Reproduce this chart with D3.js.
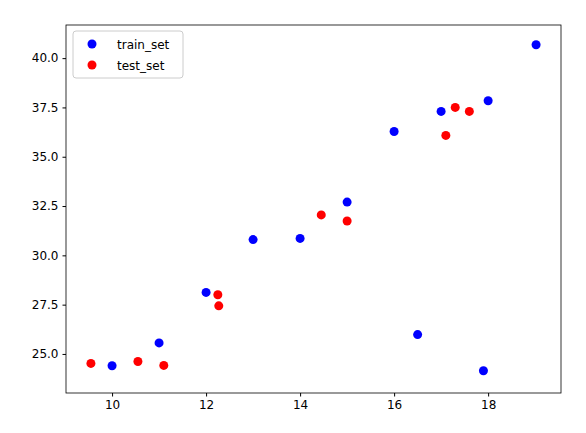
<!DOCTYPE html>
<html><head><meta charset="utf-8">
<script src="https://d3js.org/d3.v7.min.js"></script>
<style>body{margin:0;background:#fff}text{font-family:"DejaVu Sans",sans-serif}</style>
</head><body><svg id="c" width="586" height="433"></svg>
<script>
const trainX = [10, 11, 12, 13, 14, 15, 16, 17, 18, 19.02, 16.5, 17.9]
const trainY = [24.4, 25.56, 28.12, 30.8, 30.86, 32.7, 36.28, 37.3, 37.84, 40.68, 25.98, 24.15]
const testX = [9.55, 10.55, 11.1, 12.25, 12.27, 14.45, 15, 17.1, 17.3, 17.6]
const testY = [24.52, 24.62, 24.42, 28.0, 27.44, 32.05, 31.74, 36.08, 37.5, 37.3]
const xTicks = [10, 12, 14, 16, 18]
const yTicks = [25, 27.5, 30, 32.5, 35, 37.5, 40]

const svg = d3.select("#c")
const L = 66, R = 561, T = 25, B = 393
const x = d3.scaleLinear().domain([9.02, 19.55]).range([L, R])
const y = d3.scaleLinear().domain([23.02, 41.68]).range([B, T])

svg.append("g").attr("transform", `translate(0,${B})`)
    .call(d3.axisBottom(x).tickValues(xTicks).tickFormat(d3.format("d")).tickSizeOuter(0).tickSize(3.5).tickPadding(4))
svg.append("g").attr("transform", `translate(${L},0)`)
    .call(d3.axisLeft(y).tickValues(yTicks).tickFormat(d3.format(".1f")).tickSizeOuter(0).tickSize(3.5).tickPadding(4))
svg.selectAll(".domain").remove()
svg.selectAll(".tick text").attr("font-size", 12).attr("fill", "#000")
svg.selectAll(".tick line").attr("stroke", "#000")
svg.append("rect").attr("x", L).attr("y", T).attr("width", R - L).attr("height", B - T)
    .attr("fill", "none").attr("stroke", "#000").attr("stroke-width", 0.8)

svg.append("g").selectAll("circle").data(trainX).enter().append("circle")
    .attr("cx", d => x(d)).attr("cy", (d, i) => y(trainY[i])).attr("r", 4.5).attr("fill", "#0000ff")
svg.append("g").selectAll("circle").data(testX).enter().append("circle")
    .attr("cx", d => x(d)).attr("cy", (d, i) => y(testY[i])).attr("r", 4.5).attr("fill", "#ff0000")

// legend
const lg = svg.append("g")
lg.append("rect").attr("x", 73).attr("y", 31).attr("width", 110).attr("height", 47).attr("rx", 3)
    .attr("fill", "#fff").attr("stroke", "#ccc")
const items = [["train_set", "#0000ff"], ["test_set", "#ff0000"]]
items.forEach(([name, col], i) => {
    lg.append("circle").attr("cx", 92).attr("cy", 44 + i * 21).attr("r", 4.5).attr("fill", col)
    lg.append("text").attr("x", 117).attr("y", 48.5 + i * 21).attr("font-size", 12).text(name)
})
</script></body></html>
